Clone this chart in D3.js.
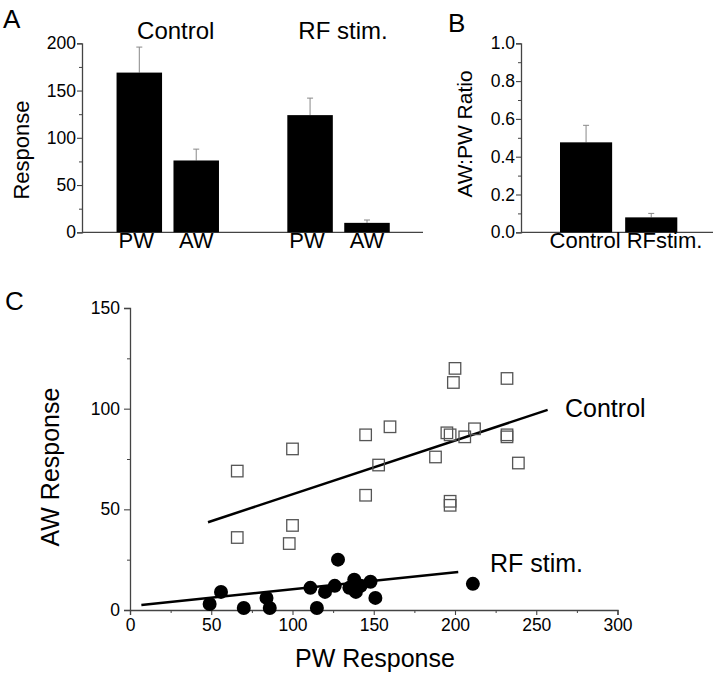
<!DOCTYPE html>
<html><head><meta charset="utf-8">
<script src="https://cdn.jsdelivr.net/npm/d3@7"></script>
<style>
body{margin:0;background:#fff;}
svg{display:block;font-family:"Liberation Sans",Arial,Helvetica,sans-serif;}
</style></head>
<body><svg id="c" width="720" height="676"></svg>
<script>
// ---------- Data ----------
const groupsA = ["Control", "RF stim."];
const barLabelsA = ["PW", "AW", "PW", "AW"];
const barSlotsA = [0, 1, 3, 4];
const meanA = [169, 76, 124, 10];
const semA = [27, 12, 18, 3];
const ticksA = [0, 50, 100, 150, 200];

const catsB = ["Control", "RFstim."];
const meanB = [0.476, 0.079];
const semB = [0.09, 0.021];
const ticksB = [0, 0.2, 0.4, 0.6, 0.8, 1.0];

const controlPW = [66, 66, 100, 100, 98, 145, 160, 145, 153, 188, 195, 197, 206, 212, 200, 199, 197, 197, 232, 232, 232, 239];
const controlAW = [69, 36, 80, 42, 33, 87, 91, 57, 72, 76, 88, 87, 86, 90, 120, 113, 54, 52, 115, 87, 86, 73];
const rfPW = [49, 56, 70, 84, 86, 111, 115, 120, 128, 126, 138, 135, 139, 142, 148, 151, 211];
const rfAW = [3, 9, 1, 6, 1, 11, 1, 9, 25, 12, 15, 11, 9, 12, 14, 6, 13];
const fitControl = [[48, 43.6], [257, 99.4]];
const fitRF = [[7, 2.5], [202, 18.9]];
const ticksCx = [0, 50, 100, 150, 200, 250, 300];
const ticksCy = [0, 50, 100, 150];

const svg = d3.select("#c");
const axisColor = "#444";

function styleAxis(g){
  g.select(".domain").attr("stroke", axisColor).attr("stroke-width", 1.3);
  g.selectAll(".tick line").attr("stroke", axisColor).attr("stroke-width", 1.1);
  g.selectAll(".tick text").attr("fill", "#000").style("font-family", '"Liberation Sans",Arial,sans-serif');
}

// ---------- Panel A ----------
const yA = d3.scaleLinear().domain([0, 200]).range([232.3, 43.3]);
const xA = d3.scaleLinear().domain([0, 4]).range([139.3, 367]);
const bwA = 45.5;
const gA = svg.append("g");
gA.append("g").attr("transform", "translate(82,0)")
  .call(d3.axisLeft(yA).tickValues(d3.range(25, 200, 50)).tickSize(3).tickFormat(""))
  .call(g => { g.select(".domain").remove(); g.selectAll("line").attr("stroke", axisColor); });
gA.append("g").attr("transform", "translate(82,0)")
  .call(d3.axisLeft(yA).tickValues(ticksA).tickSize(5).tickPadding(1))
  .call(g => { g.selectAll("text").attr("font-size", 17.5); styleAxis(g); });
gA.append("line").attr("x1", 82).attr("x2", 423).attr("y1", yA(0)).attr("y2", yA(0))
  .attr("stroke", axisColor).attr("stroke-width", 1.3);
meanA.forEach((v, i) => {
  const cx = xA(barSlotsA[i]);
  gA.append("line").attr("x1", cx).attr("x2", cx).attr("y1", yA(v)).attr("y2", yA(v + semA[i]))
    .attr("stroke", "#888").attr("stroke-width", 1);
  gA.append("line").attr("x1", cx - 3).attr("x2", cx + 3).attr("y1", yA(v + semA[i])).attr("y2", yA(v + semA[i]))
    .attr("stroke", "#888").attr("stroke-width", 1);
  gA.append("rect").attr("x", cx - bwA / 2).attr("width", bwA).attr("y", yA(v)).attr("height", yA(0) - yA(v))
    .attr("fill", "#000");
  gA.append("text").attr("x", cx - (i % 2 === 0 ? 3 : 0)).attr("y", 248).attr("text-anchor", "middle")
    .attr("font-size", 22).text(barLabelsA[i]);
});
groupsA.forEach((t, i) => {
  gA.append("text").attr("x", (xA(barSlotsA[2 * i]) + xA(barSlotsA[2 * i + 1])) / 2 + (i === 0 ? 8 : 4.5))
    .attr("y", 39).attr("text-anchor", "middle").attr("font-size", 24).text(t);
});
gA.append("text").attr("transform", "translate(29,150) rotate(-90)").attr("text-anchor", "middle")
  .attr("font-size", 22).text("Response");
svg.append("text").attr("x", 3).attr("y", 28).attr("font-size", 26).text("A");

// ---------- Panel B ----------
const yB = d3.scaleLinear().domain([0, 1]).range([232.3, 43.3]);
const xB = d3.scaleBand().domain(catsB).range([560, 677.3]).paddingInner(0.2);
const gB = svg.append("g");
gB.append("g").attr("transform", "translate(521,0)")
  .call(d3.axisLeft(yB).tickValues(d3.range(0.1, 1.0, 0.2)).tickSize(3).tickFormat(""))
  .call(g => { g.select(".domain").remove(); g.selectAll("line").attr("stroke", axisColor); });
gB.append("g").attr("transform", "translate(521,0)")
  .call(d3.axisLeft(yB).tickValues(ticksB).tickSize(5).tickPadding(1).tickFormat(d3.format(".1f")))
  .call(g => { g.selectAll("text").attr("font-size", 17.5); styleAxis(g); });
gB.append("line").attr("x1", 521).attr("x2", 713).attr("y1", yB(0)).attr("y2", yB(0))
  .attr("stroke", axisColor).attr("stroke-width", 1.3);
meanB.forEach((v, i) => {
  const x0 = xB(catsB[i]), bw = xB.bandwidth(), cx = x0 + bw / 2;
  gB.append("line").attr("x1", cx).attr("x2", cx).attr("y1", yB(v)).attr("y2", yB(v + semB[i]))
    .attr("stroke", "#888").attr("stroke-width", 1);
  gB.append("line").attr("x1", cx - 3).attr("x2", cx + 3).attr("y1", yB(v + semB[i])).attr("y2", yB(v + semB[i]))
    .attr("stroke", "#888").attr("stroke-width", 1);
  gB.append("rect").attr("x", x0).attr("width", bw).attr("y", yB(v)).attr("height", yB(0) - yB(v)).attr("fill", "#000");
});
gB.append("text").attr("x", 626).attr("y", 248).attr("text-anchor", "middle").attr("font-size", 22)
  .text(catsB.join(" "));
gB.append("text").attr("transform", "translate(472,134) rotate(-90)").attr("text-anchor", "middle")
  .attr("font-size", 21).text("AW:PW Ratio");
svg.append("text").attr("x", 448).attr("y", 32).attr("font-size", 26).text("B");

// ---------- Panel C ----------
const xC = d3.scaleLinear().domain([0, 300]).range([130, 617.5]);
const yC = d3.scaleLinear().domain([0, 150]).range([610, 308]);
const gC = svg.append("g");
gC.append("g").attr("transform", "translate(130,0)")
  .call(d3.axisLeft(yC).tickValues(d3.range(25, 150, 50)).tickSize(3).tickFormat(""))
  .call(g => { g.select(".domain").remove(); g.selectAll("line").attr("stroke", axisColor); });
gC.append("g").attr("transform", "translate(130,0)")
  .call(d3.axisLeft(yC).tickValues(ticksCy).tickSize(6).tickPadding(4))
  .call(g => { g.selectAll("text").attr("font-size", 17.5); styleAxis(g); });
gC.append("g").attr("transform", "translate(0,610)")
  .call(d3.axisBottom(xC).tickValues(d3.range(25, 300, 50)).tickSize(3).tickFormat(""))
  .call(g => { g.select(".domain").remove(); g.selectAll("line").attr("stroke", axisColor); });
gC.append("g").attr("transform", "translate(0,610)")
  .call(d3.axisBottom(xC).tickValues(ticksCx).tickSize(5).tickPadding(4))
  .call(g => { g.selectAll("text").attr("font-size", 17.5); styleAxis(g); });

const line = d3.line().x(d => xC(d[0])).y(d => yC(d[1]));
gC.append("path").attr("d", line(fitControl)).attr("stroke", "#000").attr("stroke-width", 2.5).attr("fill", "none");
gC.append("path").attr("d", line(fitRF)).attr("stroke", "#000").attr("stroke-width", 2.5).attr("fill", "none");

const sq = 11.5;
controlPW.forEach((x, i) => {
  gC.append("rect").attr("x", xC(x) - sq / 2).attr("y", yC(controlAW[i]) - sq / 2)
    .attr("width", sq).attr("height", sq).attr("fill", "none").attr("stroke", "#555").attr("stroke-width", 1.3);
});
rfPW.forEach((x, i) => {
  gC.append("circle").attr("cx", xC(x)).attr("cy", yC(rfAW[i])).attr("r", 7).attr("fill", "#000");
});
gC.append("text").attr("x", 565).attr("y", 417).attr("font-size", 25).text("Control");
gC.append("text").attr("x", 490).attr("y", 572).attr("font-size", 25).text("RF stim.");
gC.append("text").attr("transform", "translate(59,467) rotate(-90)").attr("text-anchor", "middle")
  .attr("font-size", 25).text("AW Response");
gC.append("text").attr("x", 375).attr("y", 667).attr("text-anchor", "middle").attr("font-size", 25).text("PW Response");
svg.append("text").attr("x", 5).attr("y", 310).attr("font-size", 26).text("C");
</script></body></html>
